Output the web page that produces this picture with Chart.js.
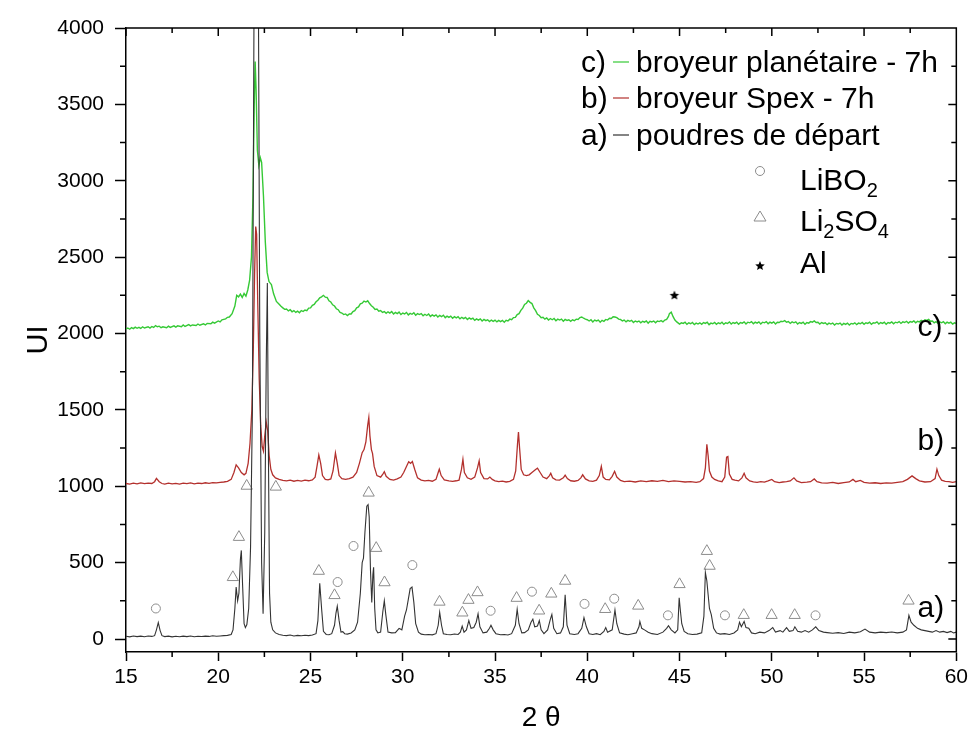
<!doctype html>
<html lang="fr">
<head>
<meta charset="utf-8">
<title>DRX - broyage</title>
<script src="https://cdn.jsdelivr.net/npm/chart.js@4.4.0/dist/chart.umd.min.js"></script>
<style>
  body { margin: 0; background: #fff; }
</style>
</head>
<body>
<canvas id="drx" width="972" height="745"></canvas>
<script>
// [2 theta, intensity]
const poudresDepart = [
  [15.0,18],[15.2,14],[15.4,20],[15.6,16],[15.8,19],[16.0,15],[16.2,20],[16.4,17],[16.55,22],[16.65,60],[16.75,108],[16.85,55],[16.95,22],
  [17.1,16],[17.3,19],[17.5,14],[17.7,18],[17.9,15],[18.1,19],[18.3,16],[18.5,20],[18.7,15],[18.9,18],[19.1,16],[19.3,19],[19.5,17],
  [19.7,21],[19.9,18],[20.1,20],[20.3,22],[20.5,24],[20.7,30],[20.8,60],[20.9,200],[20.97,340],[21.05,250],[21.12,300],[21.2,520],
  [21.25,580],[21.32,350],[21.4,100],[21.47,75],[21.55,95],[21.65,200],[21.75,600],[21.85,1500],[21.95,4500],[22.05,6500],[22.15,5000],
  [22.25,2000],[22.35,500],[22.43,165],[22.52,700],[22.6,1800],[22.66,2330],[22.72,1200],[22.78,300],[22.85,110],[22.95,60],[23.1,40],
  [23.3,30],[23.5,25],[23.7,22],[23.9,26],[24.1,20],[24.3,24],[24.5,21],[24.7,25],[24.9,22],[25.1,26],[25.3,35],[25.4,120],[25.5,365],
  [25.6,200],[25.7,50],[25.85,30],[26.0,28],[26.15,35],[26.3,90],[26.38,170],[26.45,215],[26.55,120],[26.65,45],[26.75,48],[26.85,35],
  [27.0,32],[27.2,40],[27.4,60],[27.55,110],[27.7,300],[27.8,500],[27.87,530],[27.95,700],[28.05,870],[28.12,880],[28.18,800],[28.25,450],
  [28.32,240],[28.38,420],[28.42,470],[28.48,200],[28.55,60],[28.65,40],[28.8,45],[28.92,180],[29.0,250],[29.08,160],[29.2,45],[29.4,40],
  [29.6,42],[29.8,70],[29.95,60],[30.1,150],[30.2,190],[30.3,260],[30.4,330],[30.5,340],[30.6,240],[30.7,100],[30.85,45],[31.0,32],
  [31.2,28],[31.4,30],[31.6,27],[31.8,35],[31.92,90],[32.0,175],[32.1,90],[32.2,35],[32.4,30],[32.6,28],[32.8,33],[33.0,30],[33.12,45],
  [33.22,85],[33.32,45],[33.45,60],[33.58,120],[33.7,70],[33.85,75],[33.98,110],[34.08,165],[34.18,80],[34.35,40],[34.55,45],[34.7,70],
  [34.78,90],[34.9,60],[35.05,35],[35.3,28],[35.5,30],[35.7,26],[35.9,35],[36.1,90],[36.2,195],[36.3,100],[36.45,40],[36.6,42],[36.8,60],
  [36.95,110],[37.05,130],[37.15,80],[37.3,85],[37.4,120],[37.5,60],[37.65,35],[37.85,60],[38.0,130],[38.08,160],[38.18,70],[38.35,35],
  [38.55,40],[38.7,80],[38.8,290],[38.9,90],[39.05,35],[39.3,30],[39.5,35],[39.7,70],[39.82,140],[39.95,80],[40.1,35],[40.3,30],[40.5,35],
  [40.7,28],[40.9,50],[41.0,75],[41.1,45],[41.35,60],[41.5,190],[41.6,100],[41.75,40],[42.0,32],[42.2,28],[42.45,35],[42.65,40],[42.8,80],
  [42.85,115],[42.95,70],[43.1,60],[43.3,45],[43.5,35],[43.8,30],[44.1,45],[44.3,70],[44.4,87],[44.55,60],[44.75,40],[44.9,60],[44.98,270],
  [45.05,180],[45.12,100],[45.25,50],[45.45,35],[45.7,30],[45.95,32],[46.2,40],[46.32,150],[46.4,435],[46.48,380],[46.55,290],[46.62,200],
  [46.72,160],[46.85,70],[47.0,40],[47.2,32],[47.45,35],[47.7,30],[47.95,40],[48.15,60],[48.25,110],[48.35,80],[48.5,115],[48.6,75],
  [48.75,70],[48.9,40],[49.1,35],[49.35,45],[49.6,40],[49.85,55],[50.05,75],[50.2,45],[50.45,55],[50.6,45],[50.8,75],[50.95,50],[51.15,55],
  [51.25,80],[51.4,50],[51.6,45],[51.8,55],[52.0,45],[52.2,60],[52.38,80],[52.55,55],[52.8,45],[53.0,42],[53.3,38],[53.6,42],[53.9,36],
  [54.2,45],[54.5,40],[54.8,48],[55.05,65],[55.3,45],[55.6,40],[55.9,45],[56.2,42],[56.5,46],[56.8,40],[57.1,45],[57.3,60],[57.43,155],
  [57.55,110],[57.7,90],[57.9,70],[58.1,60],[58.3,55],[58.5,50],[58.7,45],[58.9,55],[59.1,45],[59.3,50],[59.5,42],[59.7,50],[59.85,40],[60.0,45]
];

const broyeurSpex = [
  [15.0,1018],[15.2,1014],[15.4,1020],[15.6,1016],[15.8,1022],[16.0,1017],[16.2,1021],[16.4,1018],[16.55,1030],[16.65,1052],[16.8,1030],
  [16.95,1018],[17.1,1014],[17.3,1020],[17.5,1016],[17.7,1019],[17.9,1014],[18.1,1020],[18.3,1017],[18.5,1022],[18.7,1016],[18.9,1020],
  [19.1,1018],[19.3,1023],[19.5,1019],[19.7,1024],[19.9,1022],[20.1,1026],[20.3,1028],[20.5,1032],[20.7,1045],[20.85,1090],[20.97,1140],
  [21.1,1120],[21.25,1090],[21.4,1075],[21.5,1085],[21.62,1150],[21.72,1280],[21.82,1500],[21.9,1900],[21.97,2400],[22.03,2700],[22.08,2650],
  [22.14,2200],[22.22,1700],[22.3,1400],[22.38,1260],[22.45,1230],[22.52,1330],[22.6,1420],[22.68,1360],[22.76,1200],[22.85,1110],[22.95,1075],
  [23.1,1055],[23.3,1045],[23.5,1038],[23.7,1035],[23.9,1040],[24.1,1033],[24.3,1038],[24.5,1034],[24.7,1040],[24.9,1036],[25.1,1042],
  [25.25,1060],[25.35,1130],[25.45,1205],[25.55,1150],[25.65,1070],[25.8,1045],[25.95,1042],[26.1,1048],[26.22,1100],[26.35,1218],[26.45,1150],
  [26.55,1070],[26.7,1050],[26.9,1045],[27.1,1050],[27.3,1060],[27.5,1090],[27.65,1150],[27.8,1220],[27.9,1240],[28.0,1290],[28.1,1400],
  [28.16,1450],[28.22,1330],[28.3,1240],[28.36,1215],[28.45,1130],[28.6,1070],[28.8,1060],[28.92,1080],[29.0,1095],[29.1,1065],[29.3,1045],
  [29.5,1040],[29.7,1048],[29.9,1060],[30.05,1090],[30.2,1130],[30.32,1160],[30.42,1150],[30.52,1162],[30.65,1110],[30.8,1055],[31.0,1040],
  [31.2,1035],[31.4,1038],[31.6,1033],[31.8,1045],[31.92,1090],[31.98,1112],[32.08,1070],[32.25,1042],[32.5,1035],[32.7,1032],[32.9,1036],
  [33.05,1040],[33.18,1110],[33.26,1176],[33.34,1090],[33.5,1055],[33.7,1045],[33.9,1060],[34.05,1120],[34.14,1166],[34.22,1090],[34.4,1050],
  [34.6,1048],[34.72,1060],[34.85,1045],[35.0,1036],[35.2,1030],[35.4,1034],[35.6,1028],[35.8,1032],[36.0,1045],[36.12,1100],[36.22,1280],
  [36.27,1355],[36.33,1250],[36.42,1110],[36.55,1075],[36.7,1070],[36.85,1075],[37.0,1090],[37.2,1110],[37.3,1118],[37.42,1095],[37.6,1060],
  [37.8,1050],[37.95,1070],[38.02,1085],[38.12,1055],[38.3,1042],[38.5,1040],[38.7,1055],[38.8,1072],[38.92,1050],[39.1,1036],[39.3,1033],
  [39.5,1038],[39.65,1055],[39.75,1075],[39.9,1048],[40.1,1035],[40.3,1032],[40.5,1040],[40.65,1070],[40.76,1130],[40.86,1060],[41.0,1045],
  [41.2,1042],[41.35,1065],[41.48,1098],[41.6,1060],[41.8,1038],[42.0,1030],[42.3,1033],[42.6,1028],[42.9,1035],[43.2,1030],[43.5,1036],
  [43.8,1032],[44.1,1038],[44.4,1030],[44.7,1035],[45.0,1032],[45.3,1028],[45.6,1030],[45.9,1025],[46.1,1030],[46.3,1050],[46.4,1120],
  [46.48,1275],[46.55,1200],[46.62,1100],[46.75,1060],[46.9,1045],[47.1,1035],[47.3,1030],[47.45,1060],[47.55,1190],[47.62,1195],[47.7,1080],
  [47.85,1045],[48.0,1040],[48.2,1035],[48.38,1055],[48.5,1085],[48.6,1055],[48.8,1035],[49.0,1028],[49.2,1025],[49.4,1030],[49.6,1027],
  [49.8,1035],[50.0,1045],[50.15,1030],[50.4,1024],[50.6,1028],[50.8,1030],[51.0,1035],[51.2,1055],[51.35,1035],[51.6,1024],[51.9,1027],
  [52.1,1030],[52.3,1048],[52.45,1030],[52.7,1022],[53.0,1020],[53.3,1025],[53.6,1018],[53.9,1024],[54.2,1028],[54.4,1045],[54.55,1030],
  [54.8,1038],[55.0,1025],[55.3,1020],[55.6,1023],[55.9,1018],[56.2,1022],[56.5,1020],[56.8,1026],[57.1,1030],[57.35,1045],[57.6,1068],
  [57.8,1050],[58.0,1035],[58.3,1028],[58.6,1030],[58.85,1050],[58.95,1112],[59.05,1070],[59.2,1040],[59.4,1032],[59.6,1030],[59.8,1026],[60.0,1030]
];

const broyeurPlanetaire = [
  [15.0,2030],[15.1,2036],[15.2,2028],[15.3,2038],[15.4,2032],[15.5,2042],[15.6,2034],[15.7,2040],[15.8,2033],[15.9,2044],[16.0,2036],
  [16.2,2044],[16.3,2036],[16.4,2046],[16.5,2040],[16.6,2052],[16.7,2044],[16.8,2048],[16.9,2038],[17.0,2044],[17.2,2038],[17.3,2048],
  [17.4,2040],[17.6,2050],[17.7,2042],[17.8,2050],[18.0,2044],[18.1,2056],[18.2,2046],[18.4,2058],[18.5,2050],[18.6,2056],[18.8,2052],
  [18.9,2062],[19.0,2054],[19.2,2064],[19.3,2056],[19.4,2066],[19.6,2064],[19.7,2074],[19.8,2068],[20.0,2082],[20.1,2076],[20.2,2090],
  [20.4,2096],[20.5,2106],[20.6,2108],[20.75,2130],[20.9,2180],[21.0,2250],[21.1,2240],[21.2,2258],[21.3,2236],[21.4,2262],[21.5,2245],
  [21.6,2285],[21.7,2350],[21.8,2500],[21.88,2900],[21.95,3500],[22.0,3780],[22.05,3600],[22.12,3200],[22.2,3100],[22.28,3150],[22.35,3120],
  [22.45,2900],[22.55,2600],[22.65,2400],[22.75,2340],[22.88,2320],[23.0,2260],[23.15,2210],[23.3,2192],[23.4,2178],[23.5,2168],[23.6,2158],
  [23.7,2160],[23.8,2148],[23.9,2156],[24.0,2142],[24.1,2150],[24.2,2138],[24.3,2146],[24.4,2136],[24.5,2150],[24.6,2144],[24.7,2154],
  [24.8,2150],[24.9,2166],[25.0,2168],[25.1,2184],[25.2,2190],[25.3,2208],[25.4,2218],[25.5,2234],[25.6,2240],[25.7,2250],[25.8,2238],
  [25.9,2236],[26.0,2214],[26.1,2206],[26.2,2188],[26.3,2180],[26.4,2162],[26.5,2156],[26.6,2138],[26.7,2134],[26.8,2124],[26.9,2128],
  [27.0,2118],[27.1,2128],[27.2,2128],[27.3,2144],[27.4,2150],[27.5,2168],[27.6,2174],[27.7,2194],[27.8,2198],[27.9,2212],[28.0,2206],
  [28.1,2214],[28.2,2196],[28.3,2182],[28.4,2172],[28.5,2158],[28.6,2160],[28.7,2146],[28.8,2150],[28.9,2138],[29.0,2144],[29.1,2132],
  [29.2,2142],[29.3,2134],[29.4,2144],[29.5,2128],[29.6,2138],[29.7,2130],[29.8,2140],[29.9,2124],[30.0,2134],[30.1,2128],[30.2,2138],
  [30.3,2122],[30.4,2132],[30.5,2126],[30.6,2136],[30.7,2120],[30.8,2130],[30.9,2124],[31.0,2130],[31.1,2116],[31.2,2126],[31.3,2118],
  [31.4,2128],[31.5,2112],[31.6,2122],[31.7,2114],[31.8,2122],[31.9,2108],[32.0,2118],[32.1,2110],[32.2,2120],[32.3,2104],[32.4,2114],
  [32.5,2106],[32.6,2114],[32.7,2100],[32.8,2110],[32.9,2102],[33.0,2110],[33.1,2096],[33.2,2106],[33.3,2098],[33.4,2106],[33.5,2092],
  [33.6,2102],[33.7,2094],[33.8,2100],[33.9,2086],[34.0,2096],[34.1,2088],[34.2,2096],[34.3,2082],[34.4,2092],[34.5,2084],[34.6,2090],
  [34.7,2078],[34.8,2088],[34.9,2080],[35.0,2088],[35.1,2076],[35.2,2086],[35.3,2078],[35.4,2086],[35.5,2074],[35.6,2086],[35.7,2082],
  [35.8,2094],[35.9,2090],[36.0,2104],[36.1,2106],[36.2,2124],[36.3,2130],[36.4,2152],[36.5,2166],[36.6,2190],[36.7,2198],[36.8,2216],
  [36.9,2204],[37.0,2196],[37.1,2168],[37.2,2150],[37.3,2126],[37.4,2118],[37.5,2104],[37.6,2106],[37.7,2094],[37.8,2102],[37.9,2088],
  [38.0,2098],[38.1,2090],[38.2,2098],[38.3,2084],[38.4,2094],[38.5,2088],[38.6,2094],[38.7,2080],[38.8,2092],[38.9,2086],[39.0,2090],
  [39.1,2080],[39.2,2090],[39.3,2084],[39.4,2094],[39.5,2092],[39.6,2104],[39.7,2108],[39.8,2100],[39.9,2094],[40.0,2090],[40.1,2082],
  [40.2,2090],[40.3,2076],[40.4,2088],[40.5,2082],[40.6,2088],[40.7,2074],[40.8,2086],[40.9,2080],[41.0,2092],[41.1,2088],[41.2,2100],
  [41.3,2098],[41.4,2110],[41.5,2108],[41.6,2104],[41.7,2094],[41.8,2092],[41.9,2082],[42.0,2088],[42.1,2076],[42.2,2086],[42.3,2080],
  [42.4,2086],[42.5,2072],[42.6,2082],[42.7,2076],[42.8,2082],[42.9,2070],[43.0,2080],[43.1,2074],[43.2,2082],[43.3,2068],[43.4,2080],
  [43.5,2076],[43.6,2082],[43.7,2070],[43.8,2082],[43.9,2078],[44.0,2084],[44.1,2076],[44.2,2088],[44.3,2092],[44.4,2112],[44.45,2130],
  [44.55,2140],[44.65,2110],[44.75,2088],[44.85,2076],[45.0,2062],[45.1,2070],[45.2,2066],[45.3,2074],[45.4,2060],[45.5,2070],[45.6,2064],
  [45.7,2072],[45.8,2058],[45.9,2068],[46.0,2062],[46.1,2070],[46.2,2060],[46.3,2072],[46.4,2066],[46.5,2074],[46.6,2058],[46.7,2068],
  [46.8,2064],[46.9,2072],[47.0,2060],[47.1,2070],[47.2,2064],[47.3,2074],[47.4,2060],[47.5,2070],[47.6,2066],[47.7,2076],[47.8,2062],
  [47.9,2072],[48.0,2066],[48.1,2074],[48.2,2060],[48.3,2072],[48.4,2068],[48.5,2076],[48.6,2062],[48.7,2074],[48.8,2070],[48.9,2078],
  [49.0,2064],[49.1,2074],[49.2,2068],[49.3,2076],[49.4,2062],[49.5,2074],[49.6,2070],[49.7,2078],[49.8,2064],[49.9,2074],[50.0,2068],
  [50.1,2076],[50.2,2062],[50.3,2074],[50.4,2072],[50.5,2080],[50.6,2078],[50.7,2084],[50.8,2074],[50.9,2078],[51.0,2066],[51.1,2076],
  [51.2,2070],[51.3,2076],[51.4,2062],[51.5,2072],[51.6,2066],[51.7,2074],[51.8,2060],[51.9,2072],[52.0,2068],[52.1,2078],[52.2,2074],
  [52.3,2082],[52.4,2072],[52.5,2074],[52.6,2062],[52.7,2072],[52.8,2066],[52.9,2070],[53.0,2058],[53.1,2068],[53.2,2062],[53.3,2068],
  [53.4,2056],[53.5,2066],[53.6,2062],[53.7,2068],[53.8,2056],[53.9,2066],[54.0,2060],[54.1,2068],[54.2,2056],[54.3,2066],[54.4,2062],
  [54.5,2070],[54.6,2058],[54.7,2068],[54.8,2064],[54.9,2072],[55.0,2060],[55.1,2070],[55.2,2066],[55.3,2074],[55.4,2060],[55.5,2070],
  [55.6,2068],[55.7,2076],[55.8,2062],[55.9,2072],[56.0,2066],[56.1,2074],[56.2,2060],[56.3,2072],[56.4,2068],[56.5,2076],[56.6,2064],
  [56.7,2074],[56.8,2070],[56.9,2078],[57.0,2066],[57.1,2076],[57.2,2072],[57.3,2080],[57.4,2068],[57.5,2078],[57.6,2074],[57.7,2082],
  [57.8,2070],[57.9,2080],[58.0,2076],[58.1,2086],[58.2,2078],[58.3,2090],[58.4,2086],[58.5,2092],[58.6,2080],[58.7,2082],[58.8,2070],
  [58.9,2078],[59.0,2066],[59.1,2076],[59.2,2070],[59.3,2078],[59.4,2064],[59.5,2074],[59.6,2068],[59.7,2074],[59.8,2062],[59.9,2070],[60.0,2066]
];

// phase markers
const picsLiBO2 = [
  [16.62,200],[26.47,373],[27.33,609],[30.52,484],[34.76,185],[37.0,310],[39.85,230],[41.46,264],[44.37,155],[47.46,155],[52.37,155]
];
const picsLi2SO4 = [
  [20.79,404],[21.12,667],[21.54,1002],[23.12,996],[25.45,445],[26.3,286],[28.15,957],[28.56,595],[29.01,370],[31.99,243],[33.23,172],
  [33.56,255],[34.05,305],[36.17,268],[37.39,185],[38.05,296],[38.8,380],[40.97,195],[42.76,217],[45.0,358],[46.48,575],[46.63,478],
  [48.48,156],[49.99,156],[51.24,156],[57.41,250]
];
const picsAl = [[44.72,2252]];

const xTicks = [15, 20, 25, 30, 35, 40, 45, 50, 55, 60];
const yTicks = [0, 500, 1000, 1500, 2000, 2500, 3000, 3500, 4000];

const FONT = '"Liberation Sans", Arial, sans-serif';
Chart.defaults.font.family = FONT;
Chart.defaults.color = '#000';

const GREEN = '#35c935', RED = '#b3302d', BLACK = '#333333', GREY = '#8c8c8c';

function starPath(ctx, cx, cy, R) {
  ctx.beginPath();
  for (let i = 0; i < 10; i++) {
    const a = -Math.PI / 2 + i * Math.PI / 5;
    const r = i % 2 ? R * 0.45 : R;
    ctx.lineTo(cx + r * Math.cos(a), cy + r * Math.sin(a));
  }
  ctx.closePath();
}
const starImg = document.createElement('canvas');
starImg.width = 12; starImg.height = 12;
(function () {
  const c = starImg.getContext('2d');
  c.fillStyle = '#000';
  starPath(c, 6, 6.5, 5);
  c.fill();
})();

function serie(data, color, w) {
  return { data, borderColor: color, borderWidth: w, pointRadius: 0, tension: 0, fill: false };
}
function marks(data, style, r) {
  return { data, showLine: false, pointStyle: style, pointRadius: r, borderWidth: 1,
           pointBorderColor: GREY, pointBackgroundColor: 'rgba(0,0,0,0)', clip: false };
}

function rich(ctx, parts, x, y) {
  for (const [txt, sub] of parts) {
    ctx.font = (sub ? '20px ' : '30px ') + FONT;
    ctx.fillText(txt, x, sub ? y + 7 : y);
    x += ctx.measureText(txt).width;
  }
}

const frame = {
  id: 'frame',
  afterDraw(chart) {
    const { ctx, chartArea: a, scales: { x, y } } = chart;
    ctx.save();
    ctx.strokeStyle = '#000';
    ctx.lineWidth = 1.5;
    ctx.beginPath();
    ctx.moveTo(a.left, a.top); ctx.lineTo(a.right, a.top); ctx.lineTo(a.right, a.bottom);
    // x: minor outward at the bottom, all inward at the top
    for (let v = 15; v <= 60; v += 2.5) {
      const px = x.getPixelForValue(v);
      const major = v % 5 === 0;
      if (!major) { ctx.moveTo(px, a.bottom); ctx.lineTo(px, a.bottom + 5); }
      ctx.moveTo(px, a.top); ctx.lineTo(px, a.top + (major ? 8 : 5));
    }
    for (let v = 0; v <= 4000; v += 250) {
      const py = y.getPixelForValue(v);
      const major = v % 500 === 0;
      if (!major) { ctx.moveTo(a.left, py); ctx.lineTo(a.left - 6, py); }
      ctx.moveTo(a.right, py); ctx.lineTo(a.right - (major ? 8 : 5), py);
    }
    ctx.stroke();

    // legend
    ctx.fillStyle = '#000';
    ctx.textBaseline = 'alphabetic';
    ctx.font = '30px ' + FONT;
    const rows = [['c)', GREEN, 'broyeur planétaire - 7h', 72], ['b)', RED, 'broyeur Spex - 7h', 108],
                  ['a)', BLACK, 'poudres de départ', 145]];
    for (const [tag, col, txt, by] of rows) {
      ctx.fillText(tag, 581, by);
      ctx.strokeStyle = col; ctx.lineWidth = 1.2;
      ctx.beginPath(); ctx.moveTo(613, by - 10); ctx.lineTo(629, by - 10); ctx.stroke();
      ctx.fillText(txt, 636, by);
    }
    ctx.strokeStyle = GREY; ctx.lineWidth = 1;
    ctx.beginPath(); ctx.arc(760, 171, 4.5, 0, 2 * Math.PI); ctx.stroke();
    ctx.beginPath(); ctx.moveTo(760, 211); ctx.lineTo(766, 221); ctx.lineTo(754, 221); ctx.closePath(); ctx.stroke();
    starPath(ctx, 760, 266, 5); ctx.fill();
    rich(ctx, [['LiBO', 0], ['2', 1]], 800, 190);
    rich(ctx, [['Li', 0], ['2', 1], ['SO', 0], ['4', 1]], 800, 231);
    rich(ctx, [['Al', 0]], 800, 273);

    // curve tags
    ctx.font = '30px ' + FONT;
    ctx.fillText('c)', x.getPixelForValue(57.9), y.getPixelForValue(1984));
    ctx.fillText('b)', x.getPixelForValue(57.9), y.getPixelForValue(1237));
    ctx.fillText('a)', x.getPixelForValue(57.9), y.getPixelForValue(144));
    ctx.restore();
  }
};

new Chart(document.getElementById('drx'), {
  type: 'line',
  data: {
    datasets: [
      serie(poudresDepart, BLACK, 1.1),
      serie(broyeurSpex, RED, 1.3),
      serie(broyeurPlanetaire, GREEN, 1.4),
      marks(picsLiBO2, 'circle', 4.5),
      marks(picsLi2SO4, 'triangle', 6.5),
      { data: picsAl, showLine: false, pointStyle: starImg, pointRadius: 6, clip: false }
    ]
  },
  options: {
    responsive: false,
    animation: false,
    events: [],
    layout: { padding: { top: 28, right: 14, left: 0, bottom: 0 } },
    plugins: { legend: { display: false }, tooltip: { enabled: false } },
    scales: {
      x: {
        type: 'linear', min: 15, max: 60,
        afterBuildTicks: s => { s.ticks = xTicks.map(v => ({ value: v })); },
        afterFit: s => { s.height = 93; },
        ticks: { font: { size: 21 }, color: '#000', padding: 4, maxRotation: 0, autoSkip: false,
                 callback: v => String(v) },
        grid: { drawOnChartArea: false, tickLength: 9, tickWidth: 1.5, tickColor: '#000' },
        border: { color: '#000', width: 1.5 },
        title: { display: true, text: '2 θ', font: { size: 28 }, color: '#000', padding: { top: 0, bottom: 10 } }
      },
      y: {
        type: 'linear', min: -85, max: 4000,
        afterBuildTicks: s => { s.ticks = yTicks.map(v => ({ value: v })); },
        afterFit: s => { s.width = 126; },
        ticks: { font: { size: 21 }, color: '#000', padding: 11, callback: v => String(v) },
        grid: { drawOnChartArea: false, tickLength: 11, tickWidth: 1.5, tickColor: '#000' },
        border: { color: '#000', width: 1.5 },
        title: { display: true, text: 'UI', font: { size: 29 }, color: '#000', padding: { top: 22, bottom: 0 } }
      }
    }
  },
  plugins: [frame]
});
</script>
</body>
</html>
